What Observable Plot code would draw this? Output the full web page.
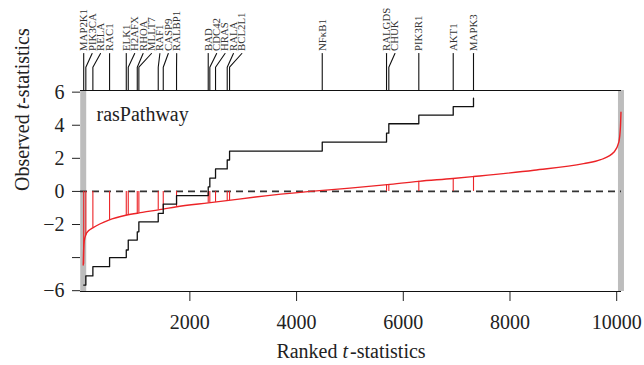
<!DOCTYPE html>
<html><head><meta charset="utf-8">
<script src="https://cdn.jsdelivr.net/npm/d3@7"></script>
<script src="https://cdn.jsdelivr.net/npm/@observablehq/plot@0.6"></script>
<style>body{margin:0;background:#fff}</style>
</head><body><div id="chart"></div>
<script>
// ---- data ----
const genes = ["MAP2K1","PIK3CA","RELA","RAC1","ELK1","H2AFX","RHOA","MLLT7","RAF1","CASP9","RALBP1","BAD","CDC42","HRAS","RALA","BCL2L1","NF\u03baB1","RALGDS","CHUK","PIK3R1","AKT1","MAPK3"];
const geneRank = [10, 50, 182, 495, 808, 845, 1014, 1044, 1407, 1501, 1750, 2344, 2374, 2481, 2700, 2744, 4481, 5686, 5729, 6291, 6936, 7316];
const geneT = [-4.4, -2.65, -2.2, -1.75, -1.45, -1.42, -1.33, -1.31, -1.12, -1.06, -0.94, -0.70, -0.69, -0.66, -0.56, -0.55, 0.05, 0.41, 0.42, 0.61, 0.78, 0.90];
const stepLevel = [-5.66, -5.11, -4.55, -4.0, -3.54, -2.94, -2.44, -1.84, -1.33, -0.77, -0.25, 0.27, 0.80, 1.36, 1.90, 2.44, 2.98, 3.52, 4.09, 4.61, 5.12, 5.64];
const curveRank = [1, 8, 20, 50, 100, 180, 480, 800, 1110, 1500, 1730, 2345, 2730, 3230, 4260, 5000, 5700, 6290, 6930, 7320, 8450, 9380, 9700, 9950, 10040, 10070, 10080];
const curveT = [-4.45, -3.6, -3.0, -2.62, -2.38, -2.2, -1.73, -1.44, -1.27, -1.07, -0.94, -0.69, -0.54, -0.34, 0.0, 0.2, 0.41, 0.61, 0.78, 0.9, 1.28, 1.68, 1.92, 2.38, 2.98, 3.9, 4.79];
const nGenes = 10080;
const xTicks = [2000, 4000, 6000, 8000, 10000];
const yTicks = [-6, -4, -2, 0, 2, 4, 6];
const pathwayName = "rasPathway";
const xTitle = "Ranked t-statistics";
const yTitle = "Observed t-statistics";

// ---- layout ----
const W = 644, H = 365, mL = 80, mR = 23, mT = 90, mB = 74;
const xDomain = [-50, 10090], yDomain = [-6.05, 6.1];
const red = "#ec2327";
const xs = Plot.scale({x: {domain: xDomain, range: [mL, W - mR]}});
const ys = Plot.scale({y: {domain: yDomain, range: [H - mB, mT]}});
const yKnee = ys.invert(66.7), yEnd = ys.invert(53), yLab = ys.invert(50.5);

const geneData = genes.map((g, i) => ({gene: g, rank: geneRank[i], t: geneT[i], level: stepLevel[i]}));
// label spreading (left-to-right push, min gap in px)
const gap = 8.4;
let prev = -Infinity;
for (const d of geneData) {
  const p = Math.max(xs.apply(d.rank), prev + gap);
  d.labelRank = xs.invert(p);
  prev = p;
}
const connectors = geneData.flatMap(d => [
  {gene: d.gene, x: d.rank, y: yDomain[1]},
  {gene: d.gene, x: d.rank, y: yKnee},
  {gene: d.gene, x: d.labelRank, y: yEnd}
]);
const curve = curveRank.map((r, i) => ({rank: r, t: curveT[i]}));

const plot = Plot.plot({
  width: W, height: H,
  marginLeft: mL, marginRight: mR, marginTop: mT, marginBottom: mB,
  style: {fontFamily: "'Liberation Serif', serif", fontSize: "20px", color: "#222", background: "#fff"},
  x: {domain: xDomain, ticks: xTicks, tickSize: 10, tickPadding: 13, tickFormat: d => String(d), label: null},
  y: {domain: yDomain, ticks: yTicks, tickSize: 8, tickPadding: 8,
      tickFormat: d => d === -4 ? "" : (d < 0 ? "\u2212" + (-d) : String(d)), label: null},
  marks: [
    Plot.ruleX([1, nGenes], {stroke: "#bdbdbd", strokeWidth: 6}),
    Plot.ruleY([0], {stroke: "#333", strokeWidth: 1.6, strokeDasharray: "7,5"}),
    Plot.ruleX(geneData, {x: "rank", y1: 0, y2: "t", stroke: red, strokeWidth: 1.1}),
    Plot.line(curve, {x: "rank", y: "t", curve: "monotone-x", stroke: red, strokeWidth: 1.4}),
    Plot.line(geneData, {x: "rank", y: "level", curve: "step-after", stroke: "#111", strokeWidth: 1.3}),
    Plot.ruleY([yDomain[1]], {stroke: "#111", strokeWidth: 1.2}),
    Plot.ruleY([yDomain[0]], {stroke: "#111", strokeWidth: 1.2}),
    Plot.line(connectors, {x: "x", y: "y", z: "gene", stroke: "#111", strokeWidth: 1.1}),
    Plot.text(geneData, {x: "labelRank", y: () => yLab, text: "gene", rotate: -90, textAnchor: "start",
      fontSize: 10.8, fill: "#333"}),
    Plot.text([pathwayName], {frameAnchor: "top-left", dx: 16, dy: 30, lineAnchor: "bottom", textAnchor: "start", fontSize: 20, fill: "#222"}),
    Plot.text([xTitle], {frameAnchor: "bottom", dy: 66, fontSize: 20, fill: "#222"}),
    Plot.text([yTitle], {frameAnchor: "left", dx: -58, rotate: -90, fontSize: 20, fill: "#222"})
  ]
});
// italic "t" in axis titles
d3.select(plot).selectAll("text").each(function() {
  const s = this.textContent;
  if (s === xTitle || s === yTitle) {
    const [a] = s.split("t-statistics");
    const el = d3.select(this);
    el.text(null);
    el.append("tspan").text(a);
    el.append("tspan").attr("font-style", "italic").text("t");
    el.append("tspan").attr("dx", s === xTitle ? 2 : 0).text("-statistics");
  }
});
document.getElementById("chart").appendChild(plot);
</script>
</body></html>
